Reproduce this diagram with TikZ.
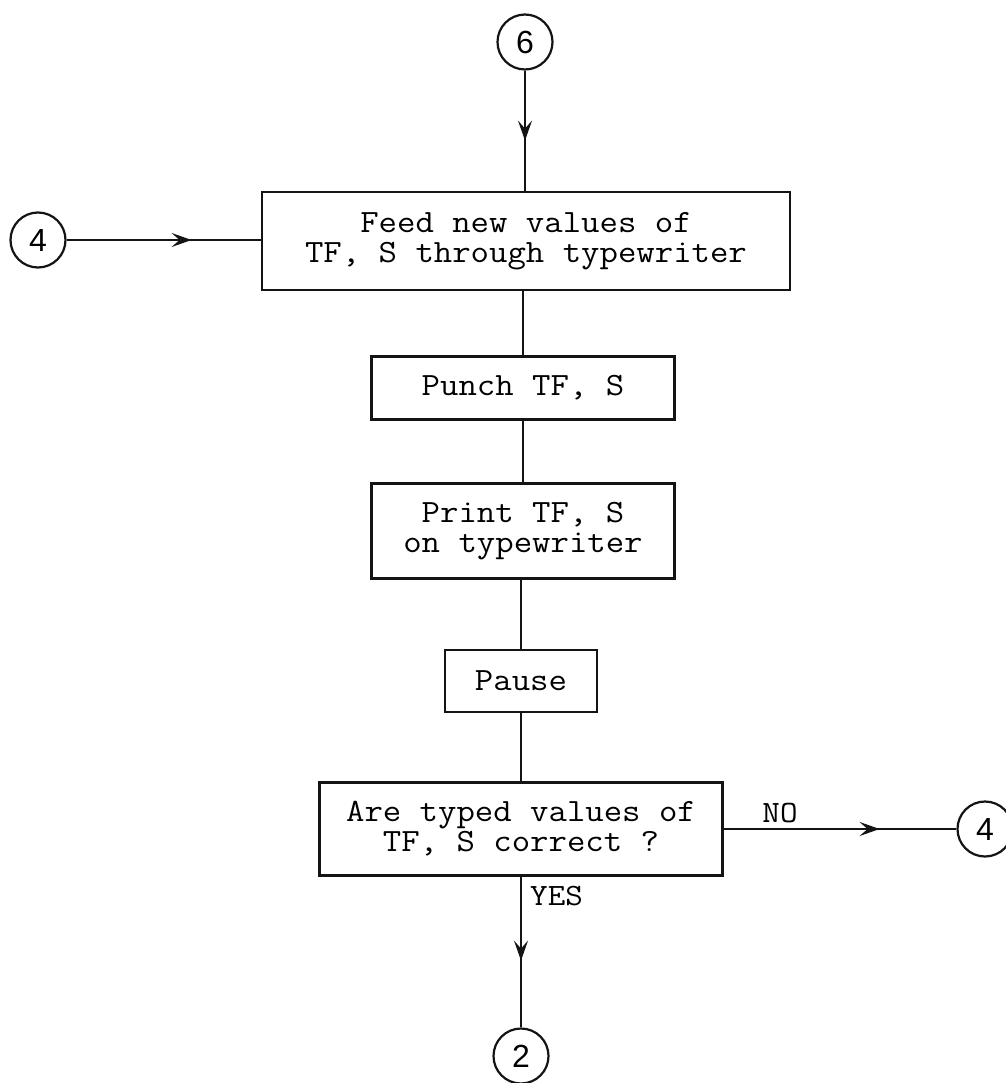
\documentclass[tikz,border=0pt]{standalone}
\usepackage{fontspec}
\setmonofont{Latin Modern Mono}[FakeStretch=1.1]
\newfontfamily\digitfont{Liberation Sans}
\usetikzlibrary{arrows.meta,decorations.markings}
\begin{document}
\begin{tikzpicture}[x=1pt,y=-1pt,
  ink/.style={line width=2.2pt, draw=black!92},
  procbox/.style={ink, rectangle, inner sep=0pt, align=center,
    font=\ttfamily\fontsize{32.5}{30}\selectfont},
  conn/.style={ink, circle, inner sep=0pt, minimum size=55pt,
    font=\digitfont\fontsize{32}{32}\selectfont},
  tag/.style={inner sep=0pt, font=\ttfamily\fontsize{31}{30}\selectfont},
  midarrow/.style={postaction={decorate}, decoration={markings,
    mark=at position #1 with {\arrow{Stealth[length=20pt,width=14pt,inset=8pt]}}}}
]
\useasboundingbox (0,0) rectangle (1005,1083);
\fill[white] (0,0) rectangle (1005,1083);

\node[conn] (c6) at (525,42) {6};
\node[procbox, minimum width=528pt, minimum height=98pt] (b1) at (526,241)
  {Feed new values of\\TF, S through typewriter};
\node[conn] (c4a) at (38,240) {4};
\node[procbox, minimum width=303pt, minimum height=63pt] (b2) at (523,388)
  {Punch TF, S};
\node[procbox, minimum width=303pt, minimum height=95pt] (b3) at (523,531)
  {Print TF, S\\on typewriter};
\node[procbox, minimum width=152pt, minimum height=62pt] (b4) at (521,681)
  {Pause};
\node[procbox, minimum width=403pt, minimum height=93pt] (b5) at (521,829)
  {Are typed values of\\TF, S correct ?};
\node[conn] (c4b) at (985,829) {4};
\node[conn] (c2) at (521,1056) {2};

\node[tag, anchor=base] (no) at (780,822) {NO};
\node[tag, anchor=base west] (yes) at (530,905) {YES};

\draw[ink, midarrow=70pt] (c6) -- (c6 |- b1.north);
\draw[ink, midarrow=125pt] (c4a) -- (c4a -| b1.west);
\draw[ink] (b2.north |- b1.south) -- (b2.north);
\draw[ink] (b2.south) -- (b3.north);
\draw[ink] (b4.north |- b3.south) -- (b4.north);
\draw[ink] (b4.south) -- (b5.north);
\draw[ink, midarrow=156pt] (b5.east) -- (c4b);
\draw[ink, midarrow=84pt] (b5.south) -- (c2);
\end{tikzpicture}
\end{document}
